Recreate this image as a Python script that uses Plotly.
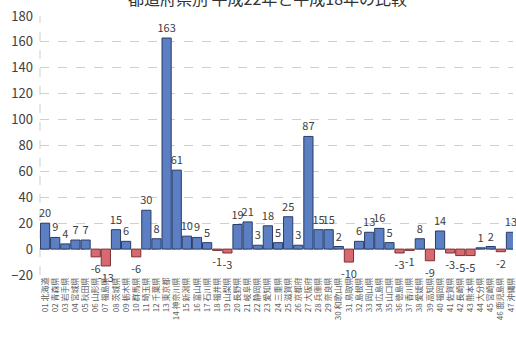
import plotly.graph_objects as go

# 都道府県別の増減（平成22年 − 平成18年）
prefectures = [
    "01 北海道", "02 青森県", "03 岩手県", "04 宮城県", "05 秋田県", "06 山形県",
    "07 福島県", "08 茨城県", "09 栃木県", "10 群馬県", "11 埼玉県", "12 千葉県",
    "13 東京都", "14 神奈川県", "15 新潟県", "16 富山県", "17 石川県", "18 福井県",
    "19 山梨県", "20 長野県", "21 岐阜県", "22 静岡県", "23 愛知県", "24 三重県",
    "25 滋賀県", "26 京都府", "27 大阪府", "28 兵庫県", "29 奈良県", "30 和歌山県",
    "31 鳥取県", "32 島根県", "33 岡山県", "34 広島県", "35 山口県", "36 徳島県",
    "37 香川県", "38 愛媛県", "39 高知県", "40 福岡県", "41 佐賀県", "42 長崎県",
    "43 熊本県", "44 大分県", "45 宮崎県", "46 鹿児島県", "47 沖縄県",
]
differences = [
    20, 9, 4, 7, 7, -6, -13, 15, 6, -6, 30, 8,
    163, 61, 10, 9, 5, -1, -3, 19, 21, 3, 18, 5,
    25, 3, 87, 15, 15, 2, -10, 6, 13, 16, 5, -3,
    -1, 8, -9, 14, -3, -5, -5, 1, 2, -2, 13,
]
y_ticks = [-20, 0, 20, 40, 60, 80, 100, 120, 140, 160, 180]
title_text = "都道府県別 平成22年と平成18年の比較"

POS_FILL, POS_EDGE = "#5b7fc2", "#2a3d66"
NEG_FILL, NEG_EDGE = "#d76a70", "#7a3035"
fills = [POS_FILL if v >= 0 else NEG_FILL for v in differences]
edges = [POS_EDGE if v >= 0 else NEG_EDGE for v in differences]

FONT = "Noto Sans CJK JP"

fig = go.Figure(
    go.Bar(
        x=prefectures,
        y=differences,
        marker=dict(color=fills, line=dict(color=edges, width=1)),
        text=[str(v) for v in differences],
        textposition="outside",
        textfont=dict(family=FONT, size=11, color="#404040"),
        constraintext="none",
        cliponaxis=False,
    )
)

fig.update_layout(
    width=516,
    height=344,
    margin=dict(l=40, r=0, t=15.5, b=68.5),
    paper_bgcolor="white",
    plot_bgcolor="white",
    bargap=0.09,
    showlegend=False,
    font=dict(family=FONT, color="#404040"),
    xaxis=dict(
        type="category",
        range=[-0.5, 46.2],
        tickmode="linear",
        dtick=1,
        tickangle=-90,
        tickfont=dict(family=FONT, size=8, color="#606060"),
        showgrid=False,
        showline=False,
        ticks="",
    ),
    yaxis=dict(
        range=[-20, 180],
        tickvals=y_ticks,
        tickfont=dict(family=FONT, size=13, color="#404040"),
        showgrid=True,
        gridcolor="#cfcfcf",
        griddash="dash",
        gridwidth=1,
        zeroline=False,
        showline=False,
        ticks="",
        ticklabelstandoff=6,
    ),
    annotations=[
        dict(
            text=title_text,
            xref="paper", yref="paper",
            x=0.481, y=1.071,
            xanchor="center", yanchor="middle",
            showarrow=False,
            font=dict(family=FONT, size=16, color="#333333"),
        )
    ],
    shapes=[
        dict(
            type="line", xref="paper", yref="paper",
            x0=0, x1=0, y0=0, y1=1,
            line=dict(color="#cfcfcf", width=1, dash="dash"),
            layer="below",
        )
    ],
)

fig.write_html("out.html")
